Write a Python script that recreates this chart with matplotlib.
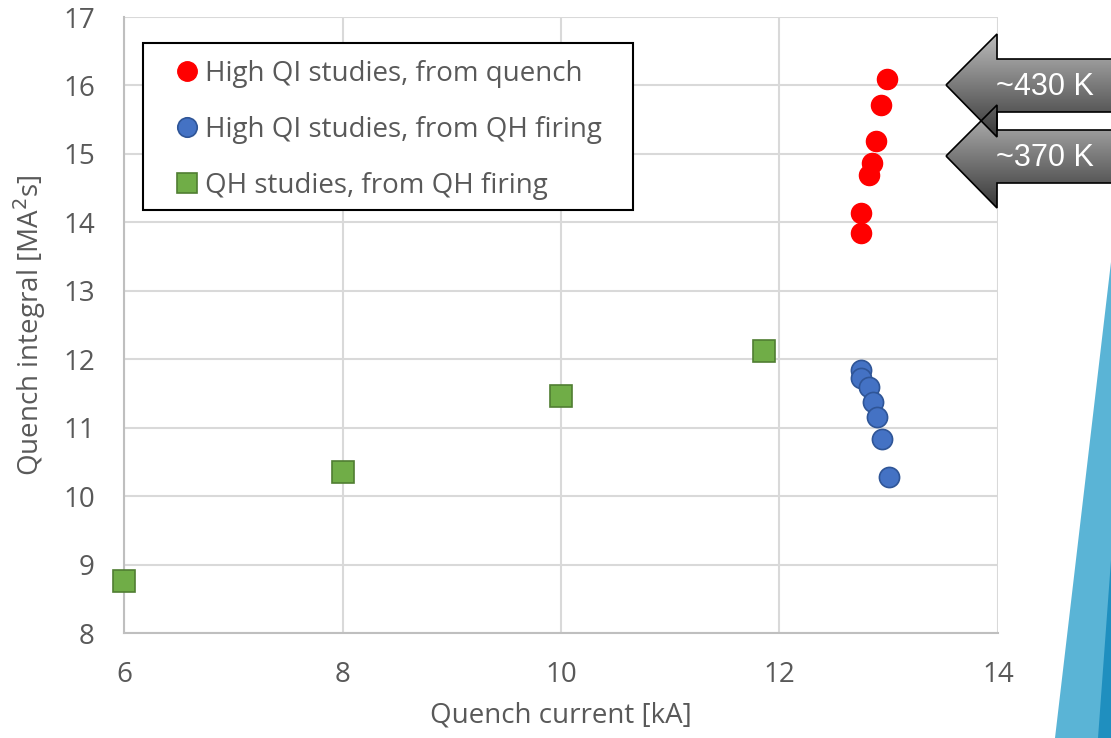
import numpy as np
import matplotlib
matplotlib.use("Agg")
import matplotlib.pyplot as plt
from matplotlib.patches import Polygon, Rectangle

plt.rcParams['font.family'] = ['Open Sans', 'DejaVu Sans']

# data
red_x = [12.98, 12.93, 12.88, 12.85, 12.82, 12.75, 12.75]
red_y = [16.09, 15.71, 15.19, 14.87, 14.69, 14.14, 13.84]
blue_x = [12.75, 12.75, 12.82, 12.86, 12.89, 12.94, 13.00]
blue_y = [11.84, 11.73, 11.60, 11.37, 11.15, 10.84, 10.28]
green_x = [6.0, 8.0, 10.0, 11.86]
green_y = [8.76, 10.35, 11.46, 12.12]
arrow_labels = ["~430 K", "~370 K"]

TXT = "#595959"
GRID = "#d9d9d9"
FS = 20
AX_W, AX_H = 874, 616  # axes size in pixels


def ax_frac(px, py):
    """figure pixel (from top-left) -> axes fraction"""
    return (px - 124) / AX_W, (633 - py) / AX_H


fig = plt.figure(figsize=(11.11, 7.38), dpi=100, facecolor="white")
ax = fig.add_axes([124 / 1111, 105 / 738, AX_W / 1111, AX_H / 738])
ax.set_xlim(6, 14)
ax.set_ylim(8, 17)
ax.set_xticks(range(6, 15, 2))
ax.set_yticks(range(8, 18))
ax.grid(True, color=GRID, linewidth=1.5)
ax.set_axisbelow(True)
for s in ax.spines.values():
    s.set_visible(False)
for side in ("left", "bottom"):
    ax.spines[side].set_visible(True)
    ax.spines[side].set_color("#bfbfbf")
    ax.spines[side].set_linewidth(1.5)
ax.tick_params(length=0, labelsize=FS, colors=TXT)
ax.tick_params(axis="x", pad=20)
ax.tick_params(axis="y", pad=21)

ax.plot(red_x, red_y, "o", ms=14.5, color="#ff0000", mec="#ff0000",
        label="High QI studies, from quench", clip_on=False, zorder=3)
ax.plot(blue_x, blue_y, "o", ms=14.5, color="#4472c4", mec="#2f5597",
        mew=1.2, label="High QI studies, from QH firing", clip_on=False, zorder=3)
ax.plot(green_x, green_y, "s", ms=15.5, color="#70ad47", mec="#507e32",
        mew=1.2, label="QH studies, from QH firing", clip_on=False, zorder=3)

ax.set_xlabel("Quench current [kA]", fontsize=FS, color=TXT, labelpad=9)
ax.set_ylabel("Quench integral [MA$^2$s]", fontsize=FS, color=TXT, labelpad=11)

# legend box drawn by hand so its padding matches the original
x0, y0 = ax_frac(143, 210)
x1, y1 = ax_frac(633, 43)
ax.add_patch(Rectangle((x0, y0), x1 - x0, y1 - y0, transform=ax.transAxes,
                       facecolor="white", edgecolor="black", linewidth=1.5,
                       zorder=4, clip_on=False))
leg = ax.legend(loc="upper left", bbox_to_anchor=ax_frac(165, 60),
                frameon=False, fontsize=FS, labelcolor=TXT,
                handletextpad=-0.15, handlelength=1.6, borderpad=0,
                labelspacing=1.0, borderaxespad=0)
leg.set_zorder(5)
for h in leg.legend_handles:
    h.set_markersize(14)

# overlay in pixel coordinates for the slide decorations
ov = fig.add_axes([0, 0, 1, 1], zorder=5)
ov.axis("off")
ov.patch.set_alpha(0)

# blue wedge at bottom right
ov.add_patch(Polygon([(1111, 262), (1055, 738), (1111, 738)], closed=True,
                     facecolor="#5ab4d6", edgecolor="none"))
ov.add_patch(Polygon([(1111, 560), (1098, 738), (1111, 738)], closed=True,
                     facecolor="#1f8fbf", edgecolor="none"))

grad = np.linspace(0, 1, 256).reshape(-1, 1)
cmap = matplotlib.colors.LinearSegmentedColormap.from_list(
    "g", ["#bcbcbc", "#7a7a7a", "#383838"])
for tip_y, lab in reversed(list(zip([85, 156], arrow_labels))):
    pts = [(946, tip_y), (997, tip_y - 51), (997, tip_y - 26), (1115, tip_y - 26),
           (1115, tip_y + 27), (997, tip_y + 27), (997, tip_y + 52)]
    im = ov.imshow(grad, cmap=cmap, aspect="auto", zorder=2,
                   extent=(940, 1115, tip_y + 52, tip_y - 51))
    bg = Polygon(pts, closed=True, facecolor="none", edgecolor="none")
    ov.add_patch(bg)
    im.set_clip_path(bg)
    ov.add_patch(Polygon(pts, closed=True, facecolor="none", edgecolor="black",
                         linewidth=1.2, zorder=3))
    ov.text(1045, tip_y + 2, lab, color="white", fontsize=22,
            family=["Liberation Sans", "DejaVu Sans"], ha="center", va="center",
            zorder=4)
ov.set_xlim(0, 1111)
ov.set_ylim(738, 0)

fig.savefig("out.png", facecolor="white")
